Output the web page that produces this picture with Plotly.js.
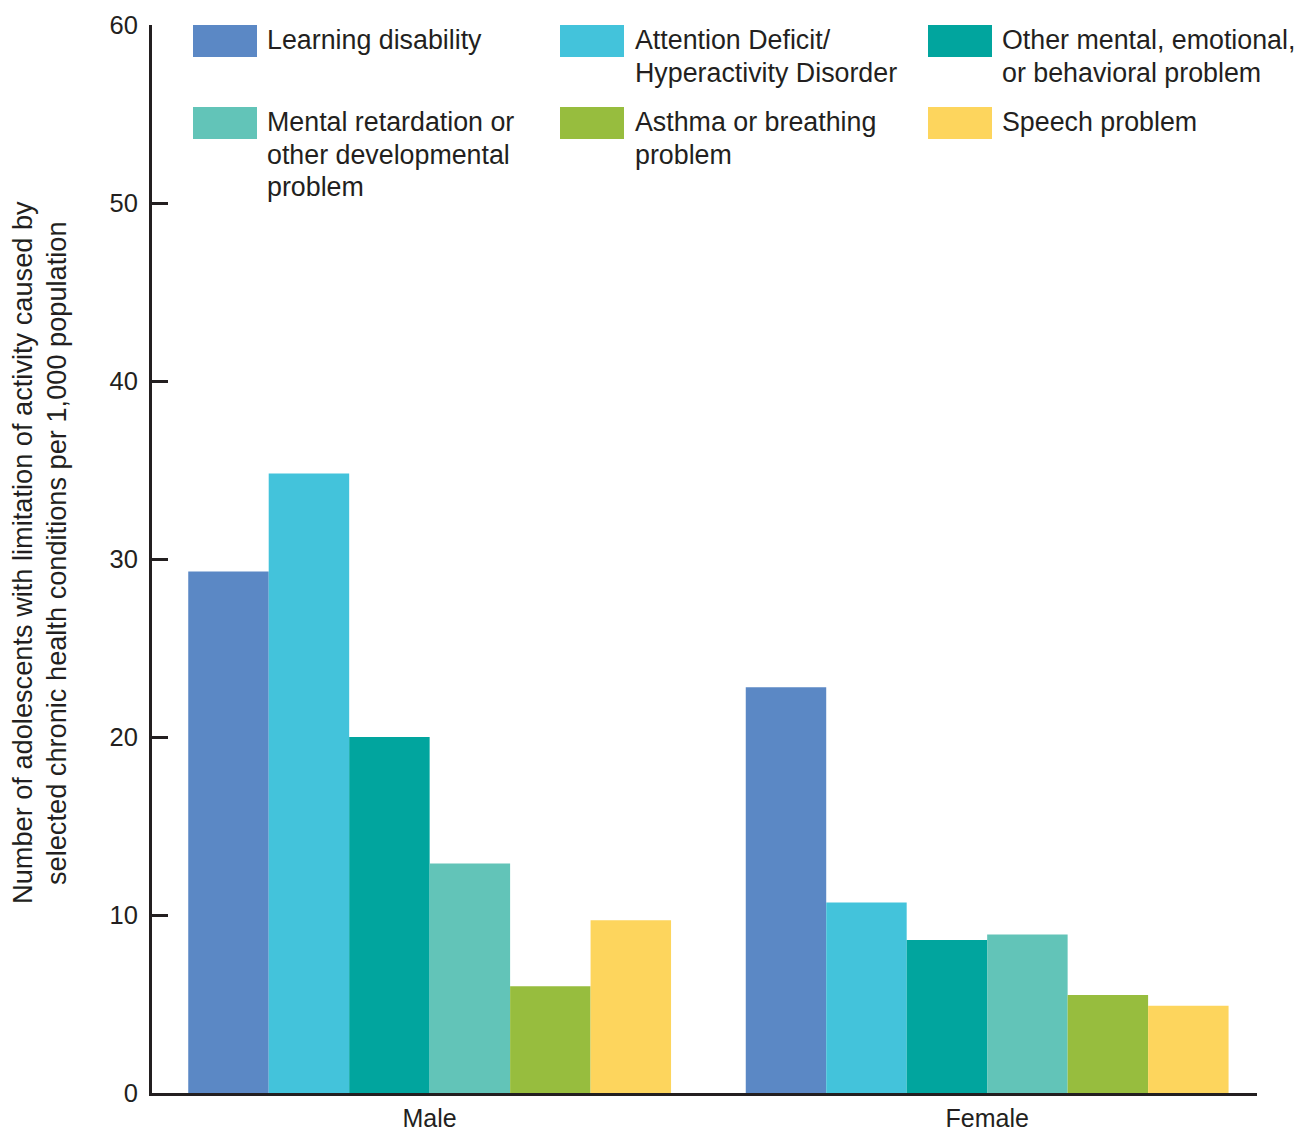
<!DOCTYPE html>
<html>
<head>
<meta charset="utf-8">
<script src="https://cdn.plot.ly/plotly-3.0.1.min.js"></script>
<style>
  html, body { margin: 0; padding: 0; background: #ffffff; }
  #chart { width: 1297px; height: 1134px; }
</style>
</head>
<body>
<div id="chart"></div>
<script>
// ---- Data ----
const groups = ["Male", "Female"];
const seriesNames = [
  "Learning disability",
  "Attention Deficit/ Hyperactivity Disorder",
  "Other mental, emotional, or behavioral problem",
  "Mental retardation or other developmental problem",
  "Asthma or breathing problem",
  "Speech problem"
];
const legendLines = [
  ["Learning disability"],
  ["Attention Deficit/", "Hyperactivity Disorder"],
  ["Other mental, emotional,", "or behavioral problem"],
  ["Mental retardation or", "other developmental", "problem"],
  ["Asthma or breathing", "problem"],
  ["Speech problem"]
];
const learningDisability = [29.3, 22.8];
const adhd = [34.8, 10.7];
const otherMental = [20.0, 8.6];
const mentalRetardation = [12.9, 8.9];
const asthma = [6.0, 5.5];
const speech = [9.7, 4.9];
const yTickVals = [0, 10, 20, 30, 40, 50, 60];
const yTitleLines = [
  "Number of adolescents with limitation of activity caused by",
  "selected chronic health conditions per 1,000 population"
];

// ---- Styling ----
const colors = ["#5b88c5", "#43c3db", "#01a59e", "#62c4b8", "#97bd3e", "#fdd55d"];
const seriesValues = [learningDisability, adhd, otherMental, mentalRetardation, asthma, speech];
const textColor = "#231f20";
const fontFamily = "Liberation Sans, Arial, Helvetica, sans-serif";

const W = 1297, H = 1134;
const M = { l: 152, r: 40, t: 25, b: 41 };
const PW = W - M.l - M.r, PH = H - M.t - M.b;
const px = x => (x - M.l) / PW;
const py = y => (H - M.b - y) / PH;

const traces = seriesNames.map((name, i) => ({
  type: "bar",
  name: name,
  x: groups,
  y: seriesValues[i],
  marker: { color: colors[i], line: { width: 0 } },
  showlegend: false,
  hoverinfo: "x+y+name"
}));

// Custom legend (3 columns x 2 rows)
const colSwatchX = [193, 560, 928];
const colTextX = [265, 633, 1000];
const rowSwatchTop = [25, 107];
const rowFirstLine = [40, 122];
const lineStep = 32.5;
const swW = 64, swH = 32;

const shapes = [];
const annotations = [];
legendLines.forEach((lines, i) => {
  const col = i % 3, row = Math.floor(i / 3);
  shapes.push({
    type: "rect", xref: "paper", yref: "paper",
    x0: px(colSwatchX[col]), x1: px(colSwatchX[col] + swW),
    y0: py(rowSwatchTop[row] + swH), y1: py(rowSwatchTop[row]),
    fillcolor: colors[i], line: { width: 0 }
  });
  lines.forEach((t, k) => {
    annotations.push({
      xref: "paper", yref: "paper",
      x: px(colTextX[col]), y: py(rowFirstLine[row] + k * lineStep),
      xanchor: "left", yanchor: "middle",
      text: t, showarrow: false,
      font: { family: fontFamily, size: 26.8, color: textColor }
    });
  });
});

// Y axis title (two lines)
const yTitleX = [22, 56];
yTitleLines.forEach((t, k) => {
  annotations.push({
    xref: "paper", yref: "paper",
    x: px(yTitleX[k]), y: py(553),
    xanchor: "center", yanchor: "middle",
    textangle: -90,
    text: t, showarrow: false,
    font: { family: fontFamily, size: 27.2, color: textColor }
  });
});

const layout = {
  width: W, height: H,
  margin: M,
  paper_bgcolor: "#ffffff",
  plot_bgcolor: "#ffffff",
  barmode: "group",
  bargap: 0.134,
  bargroupgap: 0,
  font: { family: fontFamily, color: textColor },
  xaxis: {
    type: "category",
    range: [-0.498, 1.484],
    showline: true, linecolor: textColor, linewidth: 3,
    ticks: "", showgrid: false, zeroline: false,
    tickfont: { family: fontFamily, size: 25, color: textColor },
    ticklabelstandoff: 1
  },
  yaxis: {
    range: [0, 60],
    tickvals: yTickVals,
    showline: true, linecolor: textColor, linewidth: 3,
    ticks: "inside", ticklen: 16, tickwidth: 3, tickcolor: textColor,
    showgrid: false, zeroline: false,
    tickfont: { family: fontFamily, size: 25.5, color: textColor },
    ticklabelstandoff: 6
  },
  shapes: shapes,
  annotations: annotations
};

Plotly.newPlot("chart", traces, layout, { displayModeBar: false, staticPlot: true });
</script>
</body>
</html>
